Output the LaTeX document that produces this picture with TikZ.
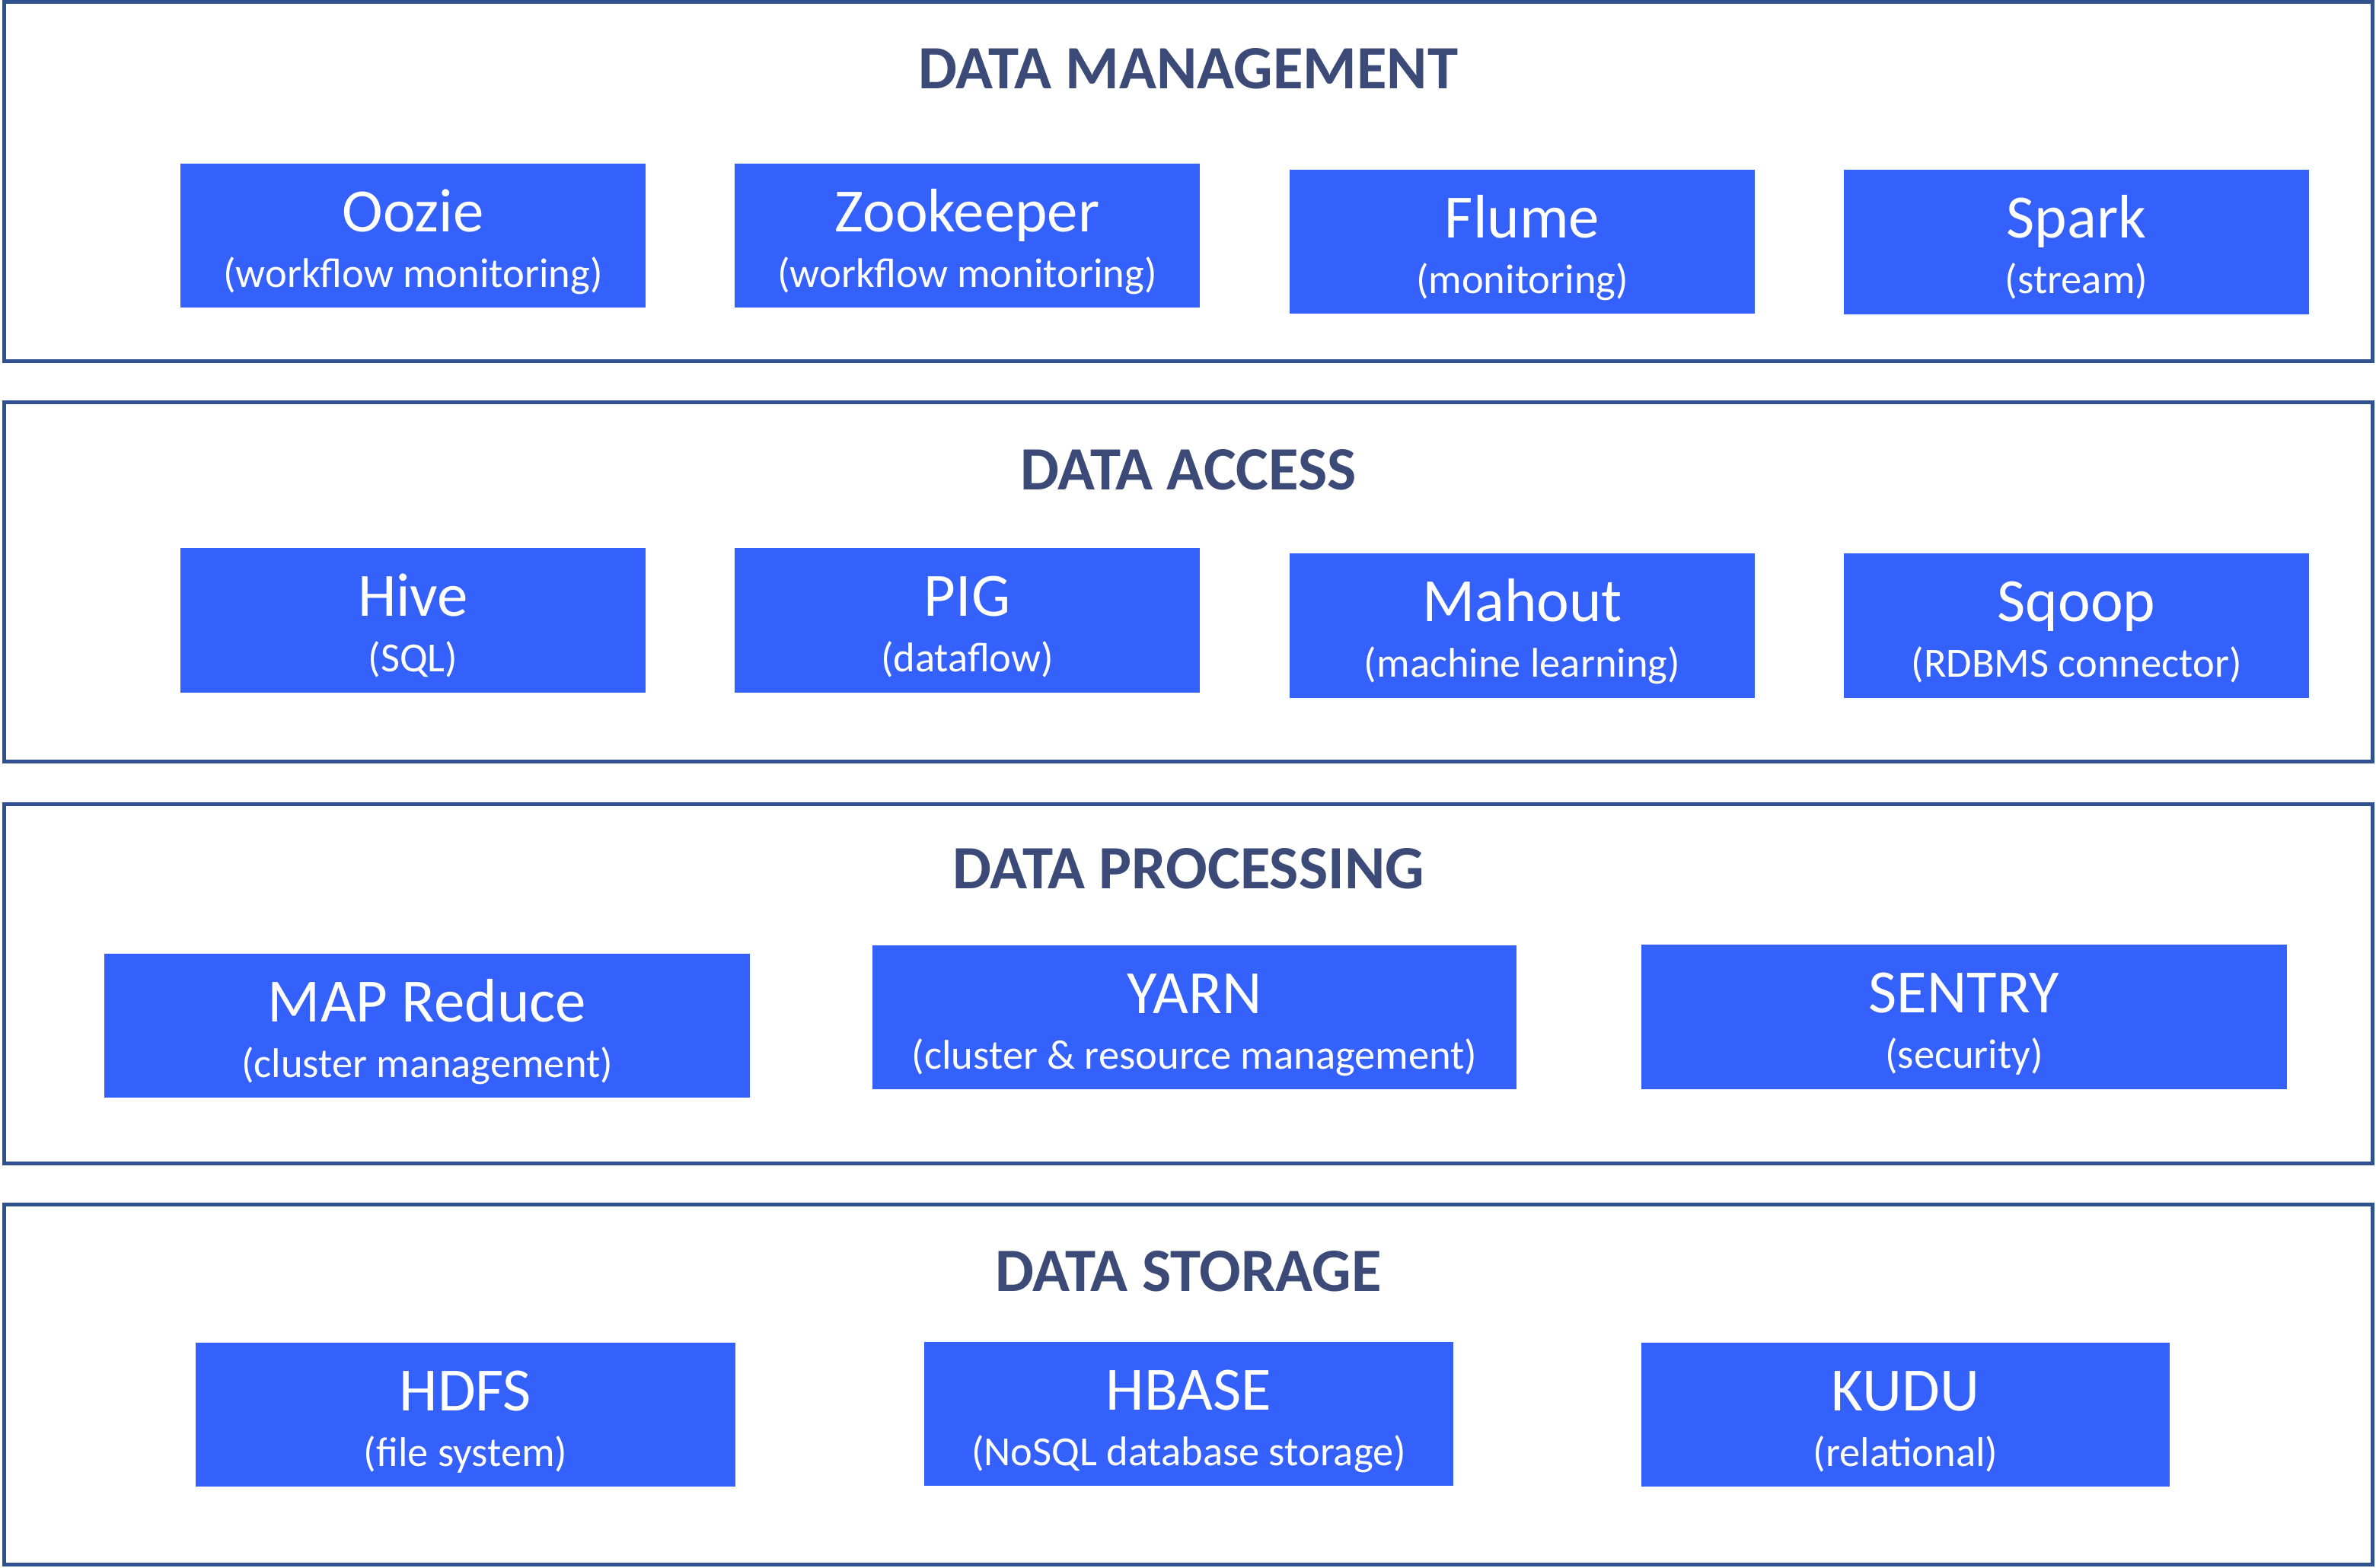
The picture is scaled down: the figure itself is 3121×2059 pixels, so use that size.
\documentclass[tikz,border=0pt]{standalone}
\usepackage{fontspec}
\setmainfont{Carlito}
\usepackage{tikz}

\definecolor{boxblue}{HTML}{3460FB}
\definecolor{framecol}{HTML}{2F528F}
\definecolor{headcol}{HTML}{3C4A78}

\begin{document}
\begin{tikzpicture}[
    x=0.01cm, y=-0.01cm,
    panel/.style={draw=framecol, line width=1.4pt, minimum width=31.10cm, minimum height=4.72cm, inner sep=0},
    heading/.style={anchor=base, text=headcol, font=\bfseries\fontsize{23}{27}\selectfont, inner sep=0},
    tool/.style={fill=boxblue, minimum height=1.89cm, inner sep=0, text=white, text height=12pt, text depth=15pt, font=\fontsize{23}{27}\selectfont},
    role/.style={anchor=base, inner sep=0, text=white, font=\fontsize{15.5}{18}\selectfont},
]
\useasboundingbox (0,0) rectangle (3121,2059);

\node[panel] (mgmt) at (1561,238.5) {};
\node[panel] (access) at (1561,764.5) {};
\node[panel] (proc) at (1561,1292.5) {};
\node[panel] (store) at (1561,1819) {};

\node[heading] (mgmthead) at (1561,116) {DATA MANAGEMENT};
\node[heading] (accesshead) at (1561,643) {DATA ACCESS};
\node[heading] (prochead) at (1561,1167) {DATA PROCESSING};
\node[heading] (storehead) at (1561,1696) {DATA STORAGE};

\node[tool, minimum width=6.11cm] (oozie) at (542.5,309.5) {Oozie};
\node[tool, minimum width=6.11cm] (zookeeper) at (1270.5,309.5) {Zookeeper};
\node[tool, minimum width=6.11cm] (flume) at (1999.5,317.5) {Flume};
\node[tool, minimum width=6.11cm] (spark) at (2727.5,318) {Spark};
\node[role] (ooziesub) at ([yshift=-20.8pt]oozie.base) {(workflow monitoring)};
\node[role] (zookeepersub) at ([yshift=-20.8pt]zookeeper.base) {(workflow monitoring)};
\node[role] (flumesub) at ([yshift=-20.8pt]flume.base) {(monitoring)};
\node[role] (sparksub) at ([yshift=-20.8pt]spark.base) {(stream)};

\node[tool, minimum width=6.11cm] (hive) at (542.5,815) {Hive};
\node[tool, minimum width=6.11cm] (pig) at (1270.5,815) {PIG};
\node[tool, minimum width=6.11cm] (mahout) at (1999.5,822) {Mahout};
\node[tool, minimum width=6.11cm] (sqoop) at (2727.5,822) {Sqoop};
\node[role] (hivesub) at ([yshift=-20.8pt]hive.base) {(SQL)};
\node[role] (pigsub) at ([yshift=-20.8pt]pig.base) {(dataflow)};
\node[role] (mahoutsub) at ([yshift=-20.8pt]mahout.base) {(machine learning)};
\node[role] (sqoopsub) at ([yshift=-20.8pt]sqoop.base) {(RDBMS connector)};

\node[tool, minimum width=8.48cm] (mapred) at (561,1347.5) {MAP Reduce};
\node[tool, minimum width=8.46cm] (yarn) at (1569,1336.5) {YARN};
\node[tool, minimum width=8.48cm] (sentry) at (2580,1336) {SENTRY};
\node[role] (mapredsub) at ([yshift=-20.8pt]mapred.base) {(cluster management)};
\node[role] (yarnsub) at ([yshift=-20.8pt]yarn.base) {(cluster \& resource management)};
\node[role] (sentrysub) at ([yshift=-20.8pt]sentry.base) {(security)};

\node[tool, minimum width=7.09cm] (hdfs) at (611.5,1858.5) {HDFS};
\node[tool, minimum width=6.95cm] (hbase) at (1561.5,1857.5) {HBASE};
\node[tool, minimum width=6.94cm] (kudu) at (2503,1858.5) {KUDU};
\node[role] (hdfssub) at ([yshift=-20.8pt]hdfs.base) {(file system)};
\node[role] (hbasesub) at ([yshift=-20.8pt]hbase.base) {(NoSQL database storage)};
\node[role] (kudusub) at ([yshift=-20.8pt]kudu.base) {(relational)};
\end{tikzpicture}
\end{document}
